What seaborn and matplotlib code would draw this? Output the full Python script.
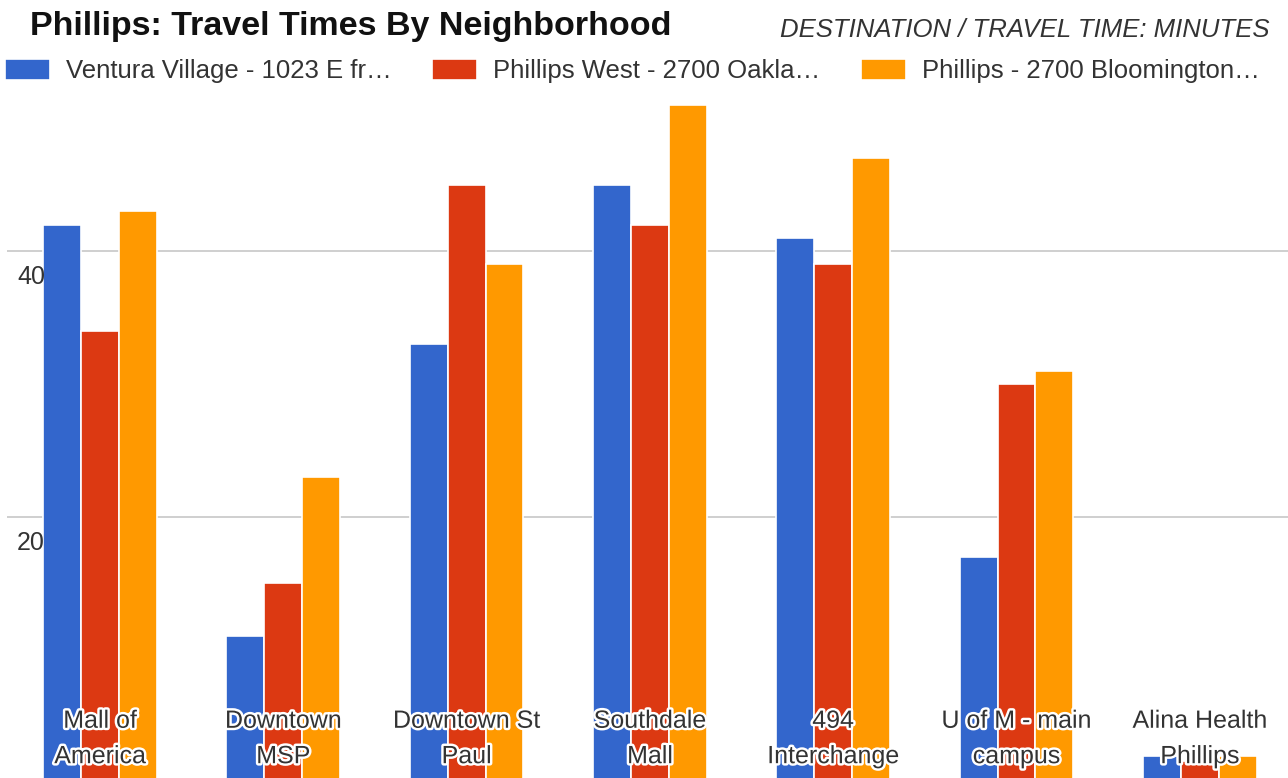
"""
Phillips: travel times by neighborhood, grouped bar chart.
"""

import matplotlib.pyplot as plt
import matplotlib.patheffects as pe
import pandas as pd
import seaborn as sns

# ---- data ----
destinations = [
    "Mall of\nAmerica",
    "Downtown\nMSP",
    "Downtown St\nPaul",
    "Southdale\nMall",
    "494\nInterchange",
    "U of M - main\ncampus",
    "Alina Health\nPhillips",
]
series_names = [
    "Ventura Village - 1023 E fr\u2026",
    "Phillips West - 2700 Oakla\u2026",
    "Phillips - 2700 Bloomington\u2026",
]
ventura_village = [42, 11, 33, 45, 41, 17, 2]
phillips_west = [34, 15, 45, 42, 39, 30, 1.6]
phillips = [43, 23, 39, 51, 47, 31, 2]
y_ticks = [20, 40]

colors = ["#3366CC", "#DC3912", "#FF9900"]

W, H = 1288, 778

sns.set_theme(style="white")
plt.rcParams["font.family"] = ["Liberation Sans", "DejaVu Sans"]

df = pd.DataFrame({
    "destination": destinations * 3,
    "series": [s for s in series_names for _ in destinations],
    "minutes": ventura_village + phillips_west + phillips,
})

fig = plt.figure(figsize=(W / 100, H / 100), dpi=100)
fig.patch.set_facecolor("white")

zero_px = 782.3
px_per_unit = 13.28
top_px = 95
ax = fig.add_axes([7 / W, (H - zero_px) / H, (W - 7) / W, (zero_px - top_px) / H])

sns.barplot(
    data=df, x="destination", y="minutes", hue="series",
    palette=colors, width=0.62, edgecolor="white", linewidth=1.2,
    saturation=1, ax=ax, legend=True, zorder=3,
)

ax.set_ylim(0, (zero_px - top_px) / px_per_unit)
ax.set_xlim(-(100 - 7) / 183.3, (W - 100) / 183.3)
ax.set_yticks(y_ticks)
ax.set_yticklabels([])
ax.set_xticks([])
ax.set_xlabel("")
ax.set_ylabel("")
ax.yaxis.grid(True, color="#cccccc", linewidth=1.3, zorder=0)
ax.set_axisbelow(True)
for s in ax.spines.values():
    s.set_visible(False)
ax.tick_params(left=False, bottom=False)

# y values drawn inside the plot, just under their gridlines
for v in y_ticks:
    ax.annotate(str(v), xy=(0, v), xycoords=("axes fraction", "data"),
                xytext=(10, -26), textcoords="offset pixels",
                ha="left", va="center", fontsize=18, color="#333333")

# category labels over the bars near the baseline
halo = [pe.withStroke(linewidth=3.5, foreground="white")]
for i, name in enumerate(destinations):
    ax.text(i, 3.3, name, ha="center", va="center", fontsize=18,
            color="#333333", linespacing=1.6, path_effects=halo, zorder=5)

# legend across the top
handles, labels = ax.get_legend_handles_labels()
ax.get_legend().remove()
fig.legend(handles, labels, loc="center left", bbox_to_anchor=(0, 1 - 71 / H),
           ncol=3, frameon=False, fontsize=18.5, handlelength=1.75,
           handleheight=0.9, handletextpad=0.6, columnspacing=1.6,
           borderaxespad=0, borderpad=0.2, labelcolor="#333333")

fig.text(30 / W, 1 - 27 / H, "Phillips: Travel Times By Neighborhood",
         ha="left", va="center", fontsize=24.5, fontweight="bold", color="#111111")
fig.text(1270 / W, 1 - 30 / H, "DESTINATION / TRAVEL TIME: MINUTES",
         ha="right", va="center", fontsize=18.5, fontstyle="italic", color="#333333")

fig.savefig("out.png", dpi=100, facecolor="white")
